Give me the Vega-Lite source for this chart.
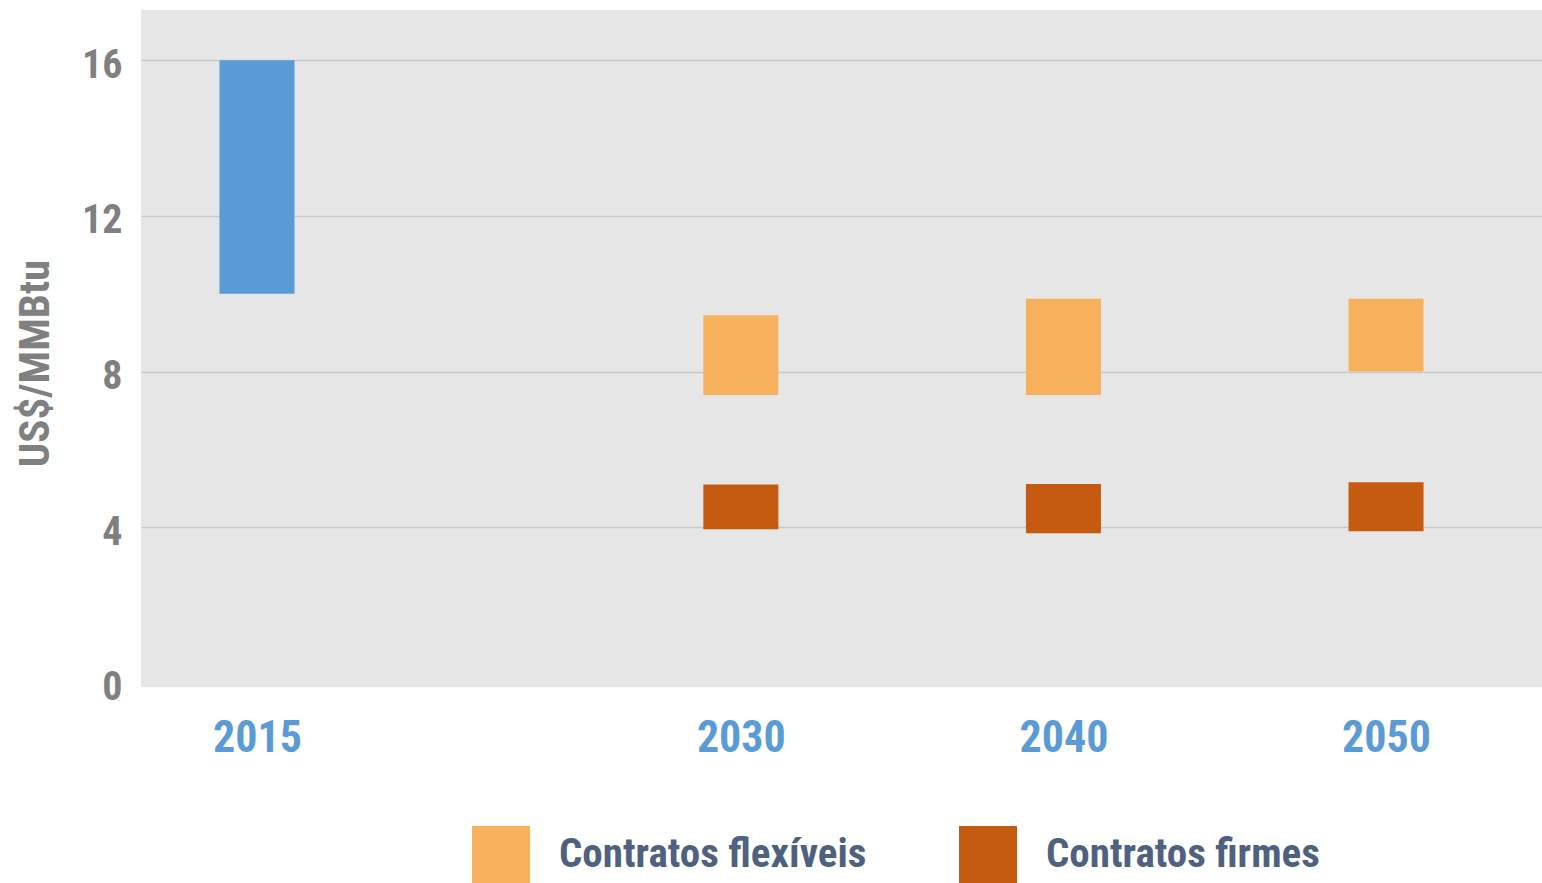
{
  "$schema": "https://vega.github.io/schema/vega-lite/v6.json",
  "width": 1401,
  "height": 677,
  "autosize": {"type": "none"},
  "padding": {"left": 141, "top": 10, "right": 0, "bottom": 196},
  "background": "white",
  "config": {
    "view": {"fill": "#e6e6e6", "stroke": null},
    "font": "Roboto Condensed, Lato, sans-serif"
  },
  "data": {
    "values": [
      {"ano": 2015, "tipo": "Preço 2015", "min": 10.0, "max": 16.0},
      {"ano": 2030, "tipo": "Contratos flexíveis", "min": 7.4, "max": 9.45},
      {"ano": 2030, "tipo": "Contratos firmes", "min": 3.95, "max": 5.1},
      {"ano": 2040, "tipo": "Contratos flexíveis", "min": 7.4, "max": 9.87},
      {"ano": 2040, "tipo": "Contratos firmes", "min": 3.85, "max": 5.11},
      {"ano": 2050, "tipo": "Contratos flexíveis", "min": 8.0, "max": 9.87},
      {"ano": 2050, "tipo": "Contratos firmes", "min": 3.9, "max": 5.16}
    ]
  },
  "mark": {"type": "bar", "width": 75},
  "encoding": {
    "x": {
      "field": "ano",
      "type": "quantitative",
      "scale": {"domain": [2011.56, 2054.68], "nice": false, "zero": false},
      "axis": {
        "values": [2015, 2030, 2040, 2050],
        "format": "d",
        "title": null,
        "grid": false,
        "domain": false,
        "ticks": false,
        "labelFontSize": 44,
        "labelFontWeight": "bold",
        "labelColor": "#5b9bd5",
        "labelBaseline": "top",
        "labelPadding": 29
      }
    },
    "y": {
      "field": "min",
      "type": "quantitative",
      "scale": {"domain": [-0.103, 17.29], "nice": false, "zero": false},
      "axis": {
        "values": [0, 4, 8, 12, 16],
        "title": "US$/MMBtu",
        "titleFontSize": 43,
        "titleFontWeight": "bold",
        "titleColor": "#808080",
        "titleAngle": -90,
        "titleAlign": "center",
        "titleBaseline": "middle",
        "titleX": -106,
        "titleY": 353,
        "domain": false,
        "ticks": false,
        "labelFontSize": 40,
        "labelFontWeight": "bold",
        "labelColor": "#808080",
        "labelPadding": 19,
        "labelBaseline": "middle",
        "labelOffset": 5,
        "gridColor": "#c8c8c8",
        "gridWidth": 1.5,
        "gridOpacity": {"condition": {"test": "datum.value === 0", "value": 0}, "value": 1}
      }
    },
    "y2": {"field": "max"},
    "color": {
      "field": "tipo",
      "type": "nominal",
      "scale": {
        "domain": ["Preço 2015", "Contratos flexíveis", "Contratos firmes"],
        "range": ["#5b9bd5", "#f7b05b", "#c55a11"]
      },
      "legend": {
        "values": ["Contratos flexíveis", "Contratos firmes"],
        "title": null,
        "orient": "none",
        "legendX": 331,
        "legendY": 816,
        "direction": "horizontal",
        "symbolType": "square",
        "symbolSize": 3364,
        "symbolStrokeWidth": 0,
        "symbolOpacity": 1,
        "labelFontSize": 41,
        "labelFontWeight": "bold",
        "labelColor": "#4f6180",
        "labelOffset": 29,
        "columnPadding": 92,
        "labelLimit": 600
      }
    }
  }
}
